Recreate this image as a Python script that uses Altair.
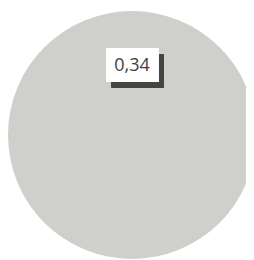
import altair as alt
import pandas as pd

categories = ["A"]
values = [0.34]
labels = ["0,34"]

df = pd.DataFrame({"category": categories, "value": values, "label": labels})

base = alt.Chart(df)

pie = base.mark_arc(color="#CFCFCB", stroke=None).encode(
    theta=alt.Theta("value:Q", stack=True),
    x=alt.value(124),
    y=alt.value(127),
    radius=alt.value(124),
)

shadow = base.mark_rect(color="#3C3C3C", opacity=0.95, cornerRadius=1).encode(
    x=alt.value(103), x2=alt.value(156), y=alt.value(46), y2=alt.value(80)
)
box = base.mark_rect(color="#FFFFFF").encode(
    x=alt.value(98), x2=alt.value(151), y=alt.value(40), y2=alt.value(74)
)
text = base.mark_text(
    font="Open Sans", fontSize=18, color="#404040", align="center", baseline="middle"
).encode(
    text="label:N", x=alt.value(124), y=alt.value(58)
)

chart = alt.layer(pie, shadow, box, text).properties(
    width=238, height=252, padding=0, autosize=alt.AutoSizeParams(type="none")
).configure_view(stroke=None)

chart.save("out.html", embed_options={"renderer": "svg", "actions": False})
